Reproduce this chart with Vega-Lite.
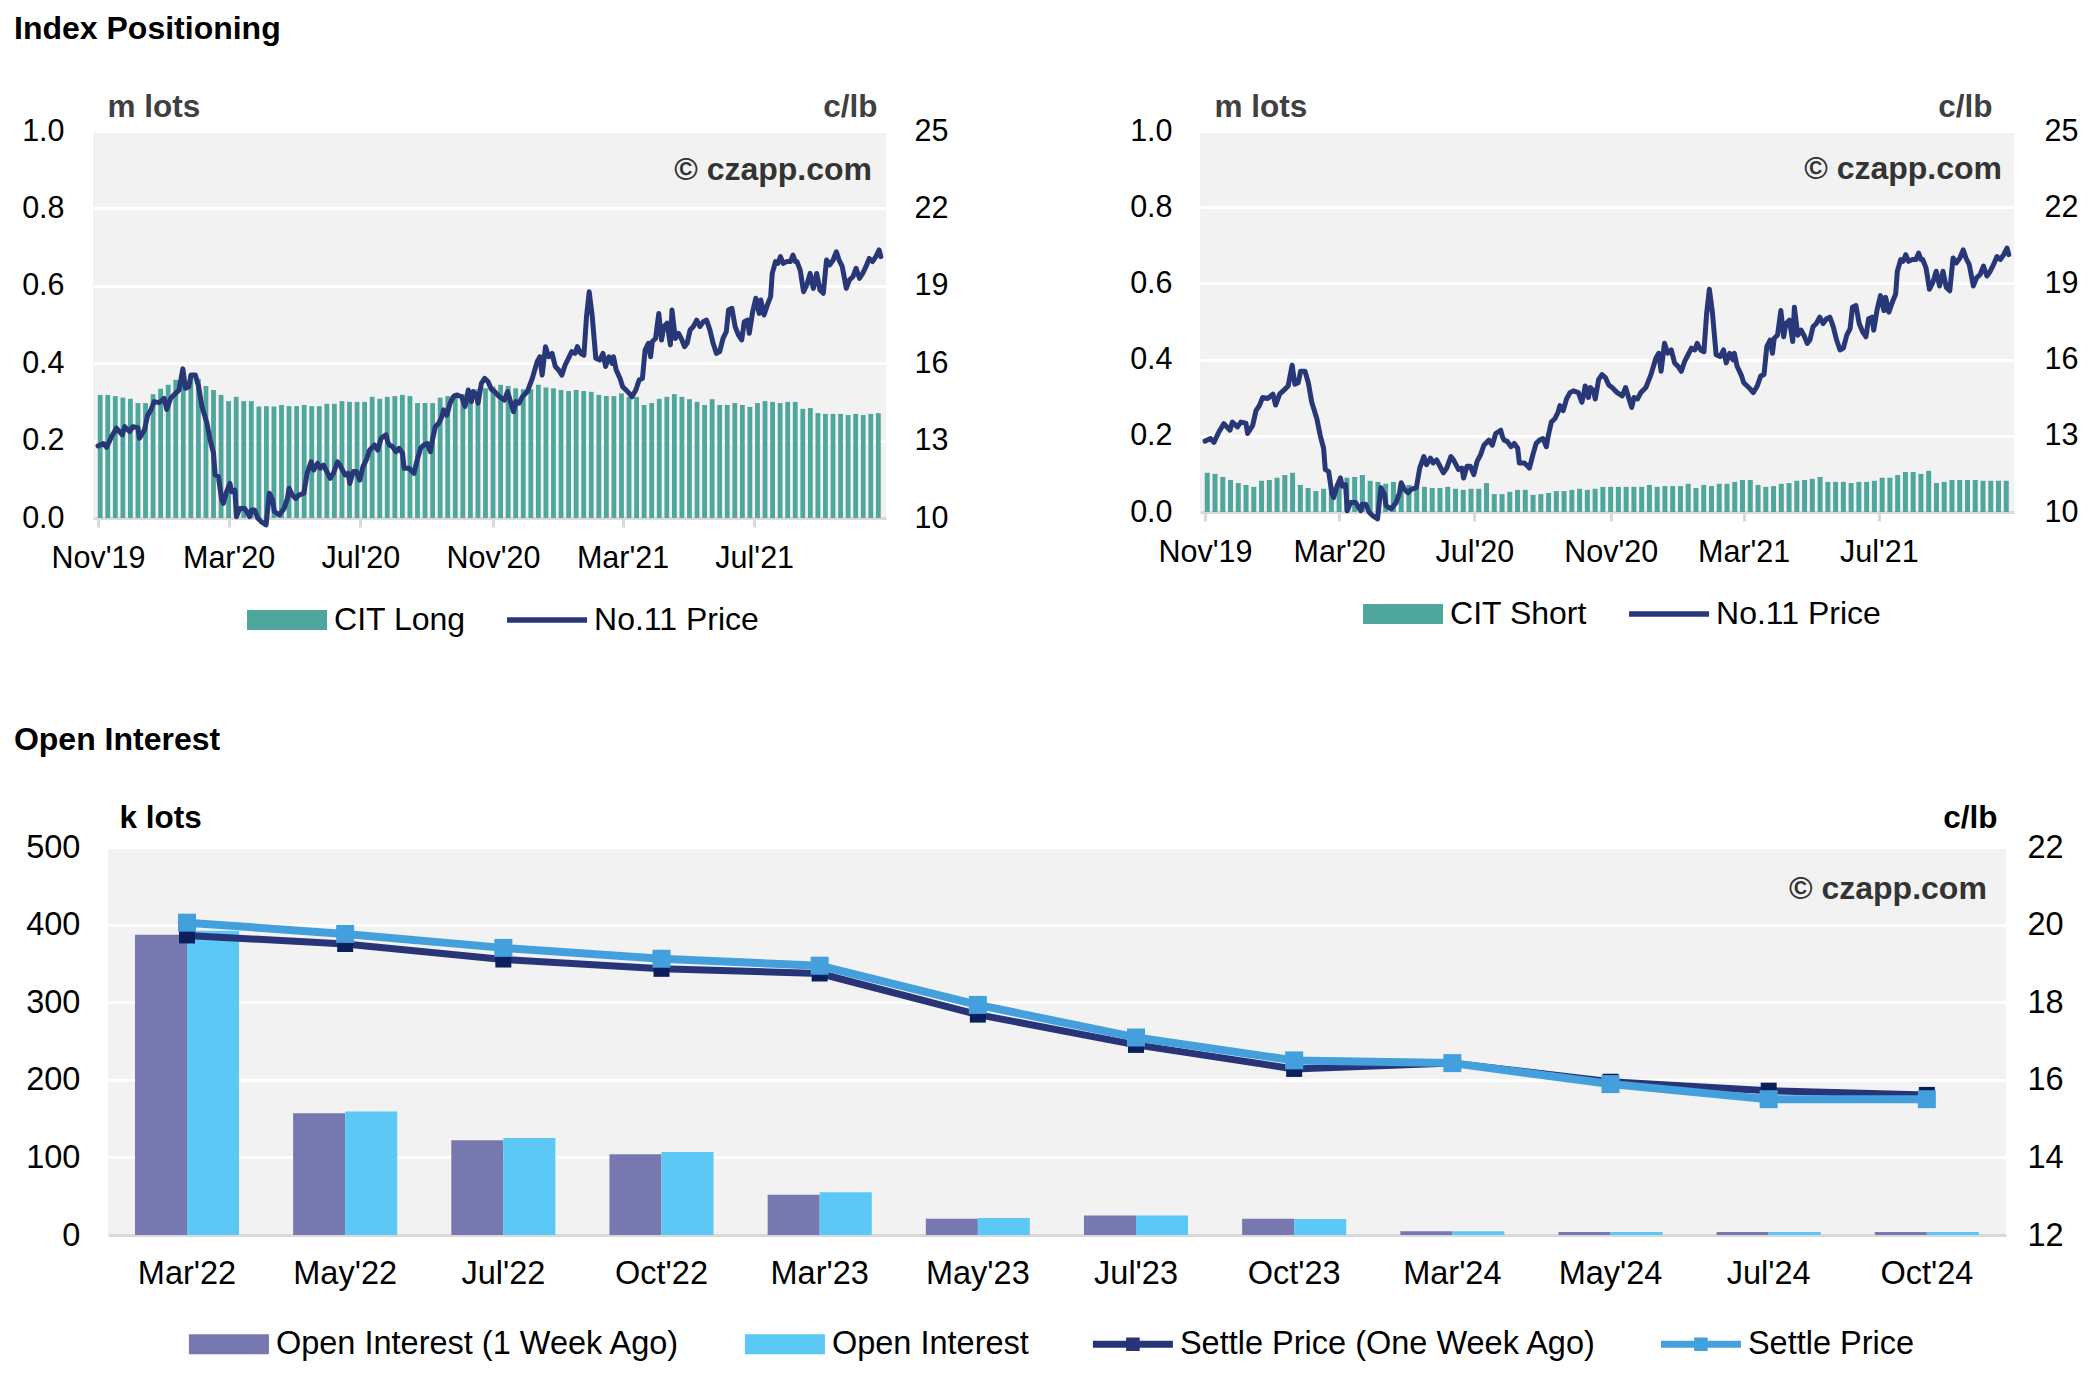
{
  "$schema": "https://vega.github.io/schema/vega-lite/v6.json",
  "background": "white",
  "padding": {"left": 13, "top": 13, "right": 0, "bottom": 0},
  "config": {
    "font": "Liberation Sans",
    "view": {"fill": "#F2F2F2", "stroke": null},
    "axis": {"labelFont": "Liberation Sans", "labelFontSize": 30.5, "labelColor": "#000000", "titleFont": "Liberation Sans", "titleFontSize": 31.5, "titleFontWeight": "bold"},
    "title": {"font": "Liberation Sans", "fontSize": 32, "fontWeight": "bold", "color": "#000000", "anchor": "start", "frame": "group", "baseline": "alphabetic", "offset": 45},
    "legend": {"labelFont": "Liberation Sans", "labelFontSize": 32, "labelColor": "#000000", "labelLimit": 2000, "title": null, "symbolSize": 6400, "labelOffset": 7, "direction": "horizontal", "orient": "none"}
  },
  "resolve": {"scale": {"color": "independent"}, "legend": {"color": "independent"}},
  "datasets": {
    "weekly": [
      {"day":2,"long":0.318,"short":0.103},{"day":9,"long":0.318,"short":0.100},{"day":16,"long":0.315,"short":0.092},{"day":23,"long":0.311,"short":0.084},{"day":30,"long":0.308,"short":0.076},{"day":37,"long":0.297,"short":0.071},{"day":44,"long":0.297,"short":0.066},{"day":51,"long":0.320,"short":0.082},{"day":58,"long":0.334,"short":0.084},{"day":65,"long":0.344,"short":0.090},
      {"day":72,"long":0.357,"short":0.097},{"day":79,"long":0.366,"short":0.103},{"day":86,"long":0.372,"short":0.071},{"day":93,"long":0.360,"short":0.063},{"day":100,"long":0.341,"short":0.055},{"day":107,"long":0.331,"short":0.061},{"day":114,"long":0.318,"short":0.066},{"day":121,"long":0.302,"short":0.080},{"day":128,"long":0.313,"short":0.090},{"day":135,"long":0.302,"short":0.092},
      {"day":142,"long":0.302,"short":0.097},{"day":149,"long":0.288,"short":0.082},{"day":156,"long":0.289,"short":0.079},{"day":163,"long":0.288,"short":0.074},{"day":170,"long":0.292,"short":0.079},{"day":177,"long":0.289,"short":0.076},{"day":184,"long":0.289,"short":0.071},{"day":191,"long":0.292,"short":0.068},{"day":198,"long":0.289,"short":0.066},{"day":205,"long":0.289,"short":0.063},
      {"day":212,"long":0.295,"short":0.063},{"day":219,"long":0.295,"short":0.066},{"day":226,"long":0.302,"short":0.061},{"day":233,"long":0.300,"short":0.058},{"day":240,"long":0.300,"short":0.061},{"day":247,"long":0.300,"short":0.061},{"day":254,"long":0.313,"short":0.076},{"day":261,"long":0.308,"short":0.047},{"day":268,"long":0.313,"short":0.047},{"day":275,"long":0.315,"short":0.053},
      {"day":282,"long":0.318,"short":0.058},{"day":289,"long":0.315,"short":0.058},{"day":296,"long":0.297,"short":0.045},{"day":303,"long":0.297,"short":0.047},{"day":310,"long":0.297,"short":0.050},{"day":317,"long":0.311,"short":0.055},{"day":324,"long":0.315,"short":0.055},{"day":331,"long":0.322,"short":0.058},{"day":338,"long":0.320,"short":0.061},{"day":345,"long":0.326,"short":0.058},
      {"day":352,"long":0.333,"short":0.061},{"day":359,"long":0.335,"short":0.066},{"day":366,"long":0.340,"short":0.066},{"day":373,"long":0.344,"short":0.066},{"day":380,"long":0.341,"short":0.066},{"day":387,"long":0.335,"short":0.066},{"day":394,"long":0.333,"short":0.066},{"day":401,"long":0.333,"short":0.071},{"day":408,"long":0.344,"short":0.066},{"day":415,"long":0.337,"short":0.068},
      {"day":422,"long":0.335,"short":0.068},{"day":429,"long":0.331,"short":0.068},{"day":436,"long":0.328,"short":0.074},{"day":443,"long":0.331,"short":0.063},{"day":450,"long":0.328,"short":0.071},{"day":457,"long":0.326,"short":0.068},{"day":464,"long":0.318,"short":0.074},{"day":471,"long":0.315,"short":0.074},{"day":478,"long":0.315,"short":0.079},{"day":485,"long":0.322,"short":0.084},
      {"day":492,"long":0.313,"short":0.084},{"day":499,"long":0.313,"short":0.071},{"day":506,"long":0.292,"short":0.066},{"day":513,"long":0.297,"short":0.068},{"day":520,"long":0.308,"short":0.074},{"day":527,"long":0.313,"short":0.076},{"day":534,"long":0.320,"short":0.082},{"day":541,"long":0.313,"short":0.084},{"day":548,"long":0.307,"short":0.087},{"day":555,"long":0.300,"short":0.092},
      {"day":562,"long":0.292,"short":0.079},{"day":569,"long":0.307,"short":0.079},{"day":576,"long":0.292,"short":0.079},{"day":583,"long":0.292,"short":0.076},{"day":590,"long":0.297,"short":0.079},{"day":597,"long":0.292,"short":0.079},{"day":604,"long":0.287,"short":0.082},{"day":611,"long":0.297,"short":0.090},{"day":618,"long":0.302,"short":0.090},{"day":625,"long":0.300,"short":0.097},
      {"day":632,"long":0.297,"short":0.105},{"day":639,"long":0.300,"short":0.105},{"day":646,"long":0.300,"short":0.100},{"day":653,"long":0.282,"short":0.108},{"day":660,"long":0.284,"short":0.076},{"day":667,"long":0.271,"short":0.079},{"day":674,"long":0.269,"short":0.084},{"day":681,"long":0.269,"short":0.084},{"day":688,"long":0.269,"short":0.084},{"day":695,"long":0.266,"short":0.084},
      {"day":702,"long":0.269,"short":0.082},{"day":709,"long":0.266,"short":0.082},{"day":716,"long":0.269,"short":0.082},{"day":723,"long":0.271,"short":0.082}
    ],
    "price": [
      {"day":0,"p":12.79},{"day":5,"p":12.89},{"day":8,"p":12.74},{"day":12.5,"p":13.15},{"day":17,"p":13.48},{"day":22.5,"p":13.22},{"day":24.7,"p":13.54},{"day":29.3,"p":13.35},{"day":32.3,"p":13.54},{"day":36.9,"p":13.5},
      {"day":38.4,"p":13.09},{"day":43,"p":13.41},{"day":46,"p":13.99},{"day":49,"p":14.19},{"day":52,"p":14.51},{"day":56.7,"p":14.47},{"day":61.3,"p":14.64},{"day":63.7,"p":14.21},{"day":67.3,"p":14.64},{"day":71.9,"p":14.83},
      {"day":75,"p":14.96},{"day":78.6,"p":15.78},{"day":81,"p":15.03},{"day":84.1,"p":15.09},{"day":86.2,"p":15.54},{"day":90.2,"p":15.54},{"day":93.2,"p":15.09},{"day":96.3,"p":14.32},{"day":100.9,"p":13.67},{"day":103.9,"p":13.02},
      {"day":107,"p":12.51},{"day":108.5,"p":11.67},{"day":111.5,"p":11.6},{"day":114.6,"p":10.7},{"day":116.1,"p":10.57},{"day":119.1,"p":11.02},{"day":122.2,"p":11.34},{"day":123.7,"p":11.02},{"day":126.8,"p":11.08},{"day":128.3,"p":10.05},
      {"day":131.3,"p":10.37},{"day":135.9,"p":10.37},{"day":140.5,"p":10.05},{"day":142,"p":10.31},{"day":145,"p":10.31},{"day":148.1,"p":9.99},{"day":151.1,"p":9.86},{"day":155.7,"p":9.73},{"day":158.7,"p":10.96},{"day":161.8,"p":10.7},
      {"day":163.3,"p":10.25},{"day":167.9,"p":10.12},{"day":172.4,"p":10.37},{"day":175.5,"p":10.76},{"day":177,"p":11.15},{"day":180,"p":10.89},{"day":183.1,"p":10.76},{"day":186.1,"p":10.89},{"day":190.7,"p":10.96},{"day":193.7,"p":11.73},
      {"day":197.4,"p":12.18},{"day":199.8,"p":11.86},{"day":203.5,"p":12.12},{"day":205.9,"p":11.93},{"day":209,"p":12.05},{"day":212,"p":11.8},{"day":215.1,"p":11.54},{"day":218.1,"p":11.73},{"day":221.8,"p":12.18},{"day":224.2,"p":12.05},
      {"day":228.8,"p":11.67},{"day":231.8,"p":11.73},{"day":233.3,"p":11.34},{"day":236.4,"p":11.8},{"day":239.4,"p":11.8},{"day":242.5,"p":11.47},{"day":245.5,"p":11.99},{"day":248.6,"p":12.25},{"day":251.6,"p":12.63},{"day":256.2,"p":12.83},
      {"day":259.2,"p":12.63},{"day":262.3,"p":13.09},{"day":266.8,"p":13.22},{"day":268.4,"p":12.96},{"day":269.9,"p":12.83},{"day":272.9,"p":12.77},{"day":276,"p":12.57},{"day":279,"p":12.7},{"day":282.1,"p":12.51},{"day":283.6,"p":11.93},
      {"day":288.2,"p":11.93},{"day":292.7,"p":11.73},{"day":295.8,"p":12.25},{"day":298.8,"p":12.7},{"day":301.9,"p":12.83},{"day":304.9,"p":12.89},{"day":308,"p":12.57},{"day":309.5,"p":12.96},{"day":312.5,"p":13.54},{"day":315.6,"p":13.67},
      {"day":318.6,"p":13.93},{"day":320.2,"p":14.19},{"day":323.2,"p":13.99},{"day":326.2,"p":14.45},{"day":329.3,"p":14.7},{"day":332.3,"p":14.77},{"day":336.9,"p":14.7},{"day":340,"p":14.32},{"day":341.5,"p":14.57},{"day":343,"p":14.96},
      {"day":346,"p":14.51},{"day":347.6,"p":14.9},{"day":350.6,"p":14.77},{"day":352.1,"p":14.45},{"day":355.2,"p":15.22},{"day":358.2,"p":15.41},{"day":361.3,"p":15.29},{"day":364.3,"p":15.0},{"day":367.3,"p":14.9},{"day":371.9,"p":14.7},
      {"day":376.5,"p":14.57},{"day":379.5,"p":14.9},{"day":382.6,"p":14.45},{"day":385,"p":14.12},{"day":387.1,"p":14.51},{"day":390.2,"p":14.45},{"day":393.2,"p":14.7},{"day":397.8,"p":14.9},{"day":402.4,"p":15.41},{"day":406.9,"p":16.06},
      {"day":409.4,"p":16.25},{"day":411.5,"p":15.54},{"day":414.6,"p":16.64},{"day":417.6,"p":16.25},{"day":420.7,"p":16.38},{"day":423.7,"p":15.87},{"day":426.7,"p":15.74},{"day":429.8,"p":15.54},{"day":432.8,"p":15.93},{"day":435.9,"p":16.19},
      {"day":438.9,"p":16.45},{"day":442,"p":16.38},{"day":444.1,"p":16.64},{"day":447.2,"p":16.38},{"day":450.2,"p":16.31},{"day":452.6,"p":17.8},{"day":455.1,"p":18.77},{"day":457.8,"p":17.87},{"day":461.2,"p":16.19},{"day":464.8,"p":16.12},
      {"day":467.9,"p":16.38},{"day":470.3,"p":15.87},{"day":473.4,"p":16.25},{"day":476.4,"p":15.99},{"day":477.6,"p":16.25},{"day":480.1,"p":15.74},{"day":483.7,"p":15.41},{"day":486.1,"p":15.09},{"day":489.2,"p":14.96},{"day":492.2,"p":14.83},
      {"day":494.7,"p":14.7},{"day":498.3,"p":14.96},{"day":501.4,"p":15.35},{"day":504.4,"p":15.41},{"day":506.9,"p":16.51},{"day":509.9,"p":16.77},{"day":512,"p":16.25},{"day":513.6,"p":16.84},{"day":516.6,"p":16.96},{"day":519.6,"p":17.93},
      {"day":522.1,"p":16.9},{"day":524.2,"p":17.42},{"day":527.3,"p":17.55},{"day":530.3,"p":16.71},{"day":531.8,"p":18.06},{"day":534.9,"p":16.96},{"day":537.9,"p":17.16},{"day":541,"p":16.9},{"day":543.4,"p":16.64},{"day":545.8,"p":16.77},
      {"day":548.6,"p":17.29},{"day":551.6,"p":17.42},{"day":554.7,"p":17.67},{"day":557.7,"p":17.42},{"day":560.8,"p":17.61},{"day":563.8,"p":17.67},{"day":566.9,"p":17.29},{"day":569.9,"p":16.77},{"day":573,"p":16.38},{"day":576,"p":16.45},
      {"day":579.1,"p":16.96},{"day":582.1,"p":17.22},{"day":584.2,"p":18.06},{"day":587.3,"p":18.13},{"day":590.3,"p":17.42},{"day":593.4,"p":17.09},{"day":596.4,"p":16.9},{"day":598.8,"p":17.61},{"day":601.9,"p":17.67},{"day":603.4,"p":17.16},
      {"day":606.5,"p":17.98},{"day":609.5,"p":18.52},{"day":612.6,"p":17.93},{"day":614.1,"p":18.45},{"day":617.1,"p":17.87},{"day":620.2,"p":18.26},{"day":623.2,"p":18.58},{"day":624.7,"p":19.48},{"day":627.8,"p":19.94},{"day":629.9,"p":19.87},
      {"day":632.3,"p":20.13},{"day":634.8,"p":19.87},{"day":638.4,"p":19.94},{"day":641.5,"p":19.94},{"day":643.9,"p":20.19},{"day":646.1,"p":19.94},{"day":647.6,"p":19.94},{"day":650.6,"p":19.61},{"day":653.7,"p":18.77},{"day":656.7,"p":19.03},
      {"day":659.8,"p":19.48},{"day":662.8,"p":18.9},{"day":665.9,"p":19.48},{"day":668.9,"p":18.84},{"day":672,"p":18.71},{"day":675,"p":20.0},{"day":678,"p":19.81},{"day":681.1,"p":20.0},{"day":684.1,"p":20.32},{"day":686.6,"p":20.0},
      {"day":689.6,"p":19.74},{"day":693.3,"p":18.9},{"day":696.3,"p":19.23},{"day":699.4,"p":19.35},{"day":702.4,"p":19.68},{"day":705.5,"p":19.29},{"day":708.5,"p":19.48},{"day":711.5,"p":19.74},{"day":714.6,"p":20.06},{"day":717.6,"p":19.94},
      {"day":720.7,"p":20.13},{"day":723.7,"p":20.39},{"day":725.3,"p":20.13}
    ],
    "oi": [
      {"contract":"Mar'22","series":"Open Interest (1 Week Ago)","value":387},{"contract":"Mar'22","series":"Open Interest","value":392},
      {"contract":"May'22","series":"Open Interest (1 Week Ago)","value":157},{"contract":"May'22","series":"Open Interest","value":159},
      {"contract":"Jul'22","series":"Open Interest (1 Week Ago)","value":122},{"contract":"Jul'22","series":"Open Interest","value":125},
      {"contract":"Oct'22","series":"Open Interest (1 Week Ago)","value":104},{"contract":"Oct'22","series":"Open Interest","value":107},
      {"contract":"Mar'23","series":"Open Interest (1 Week Ago)","value":52},{"contract":"Mar'23","series":"Open Interest","value":55},
      {"contract":"May'23","series":"Open Interest (1 Week Ago)","value":21},{"contract":"May'23","series":"Open Interest","value":22},
      {"contract":"Jul'23","series":"Open Interest (1 Week Ago)","value":25},{"contract":"Jul'23","series":"Open Interest","value":25},
      {"contract":"Oct'23","series":"Open Interest (1 Week Ago)","value":21},{"contract":"Oct'23","series":"Open Interest","value":20.5},
      {"contract":"Mar'24","series":"Open Interest (1 Week Ago)","value":4.8},{"contract":"Mar'24","series":"Open Interest","value":4.8},
      {"contract":"May'24","series":"Open Interest (1 Week Ago)","value":3.9},{"contract":"May'24","series":"Open Interest","value":3.9},
      {"contract":"Jul'24","series":"Open Interest (1 Week Ago)","value":3.9},{"contract":"Jul'24","series":"Open Interest","value":3.9},
      {"contract":"Oct'24","series":"Open Interest (1 Week Ago)","value":3.9},{"contract":"Oct'24","series":"Open Interest","value":3.9}
    ],
    "settle1w": [
      {"contract":"Mar'22","series":"Settle Price (One Week Ago)","price":19.72},{"contract":"May'22","series":"Settle Price (One Week Ago)","price":19.5},{"contract":"Jul'22","series":"Settle Price (One Week Ago)","price":19.1},{"contract":"Oct'22","series":"Settle Price (One Week Ago)","price":18.86},{"contract":"Mar'23","series":"Settle Price (One Week Ago)","price":18.74},{"contract":"May'23","series":"Settle Price (One Week Ago)","price":17.68},
      {"contract":"Jul'23","series":"Settle Price (One Week Ago)","price":16.9},{"contract":"Oct'23","series":"Settle Price (One Week Ago)","price":16.28},{"contract":"Mar'24","series":"Settle Price (One Week Ago)","price":16.43},{"contract":"May'24","series":"Settle Price (One Week Ago)","price":15.95},{"contract":"Jul'24","series":"Settle Price (One Week Ago)","price":15.72},{"contract":"Oct'24","series":"Settle Price (One Week Ago)","price":15.61}
    ],
    "settle": [
      {"contract":"Mar'22","series":"Settle Price","price":20.05},{"contract":"May'22","series":"Settle Price","price":19.76},{"contract":"Jul'22","series":"Settle Price","price":19.4},{"contract":"Oct'22","series":"Settle Price","price":19.12},{"contract":"Mar'23","series":"Settle Price","price":18.94},{"contract":"May'23","series":"Settle Price","price":17.93},
      {"contract":"Jul'23","series":"Settle Price","price":17.09},{"contract":"Oct'23","series":"Settle Price","price":16.5},{"contract":"Mar'24","series":"Settle Price","price":16.43},{"contract":"May'24","series":"Settle Price","price":15.89},{"contract":"Jul'24","series":"Settle Price","price":15.5},{"contract":"Oct'24","series":"Settle Price","price":15.5}
    ]
  },
  "align": "each",
  "center": true,
  "bounds": "full",
  "spacing": 88,
  "vconcat": [
    {
      "align": "each",
      "bounds": "full",
      "spacing": 181,
      "resolve": {"scale": {"color": "independent"}, "legend": {"color": "independent"}},
      "hconcat": [
        {
          "title": {"text": "Index Positioning", "dx": -79},
          "width": 793,
          "height": 387,
          "layer": [
            {
              "data": {"name": "weekly"},
              "mark": {"type": "bar", "size": 4.8},
              "encoding": {
                "x": {"field": "day", "type": "quantitative", "scale": {"domain": [0, 725.5], "nice": false, "zero": false},
                  "axis": {"values": [0, 121, 243, 366, 486, 608], "labelExpr": "datum.value == 0 ? \"Nov'19\" : datum.value == 121 ? \"Mar'20\" : datum.value == 243 ? \"Jul'20\" : datum.value == 366 ? \"Nov'20\" : datum.value == 486 ? \"Mar'21\" : \"Jul'21\"", "title": null, "grid": false, "domain": true, "domainColor": "#D9D9D9", "domainWidth": 3, "ticks": true, "tickColor": "#D9D9D9", "tickWidth": 3, "tickSize": 9, "labelPadding": 16, "labelFlush": false, "labelOverlap": false}},
                "y": {"field": "long", "type": "quantitative", "scale": {"domain": [0, 1], "nice": false},
                  "axis": {"orient": "left", "values": [0, 0.2, 0.4, 0.6, 0.8, 1.0], "format": ".1f", "grid": true, "gridColor": "#FFFFFF", "gridWidth": 3, "domain": false, "ticks": false, "labelPadding": 29, "title": "m lots", "titleAngle": 0, "titleX": 14, "titleY": -15, "titleAlign": "left", "titleBaseline": "alphabetic", "titleColor": "#404040"}},
                "color": {"datum": "CIT Long", "type": "nominal", "scale": {"domain": ["CIT Long", "No.11 Price"], "range": ["#4FA69C", "#283777"]},
                  "legend": {"legendX": 154, "legendY": 449, "columnPadding": 41,
                    "encode": {"symbols": {"update": {"shape": {"signal": "datum.value === 'CIT Long' ? 'M-1,-0.25H1V0.25H-1Z' : 'M-1,-0.07H1V0.07H-1Z'"}, "fill": {"signal": "datum.value === 'CIT Long' ? '#4FA69C' : '#283777'"}, "stroke": {"value": "transparent"}, "strokeWidth": {"value": 0}, "opacity": {"value": 1}}}}}}
              }
            },
            {
              "data": {"name": "price"},
              "mark": {"type": "line", "strokeWidth": 5, "strokeJoin": "round", "strokeCap": "round"},
              "encoding": {
                "x": {"field": "day", "type": "quantitative"},
                "y": {"field": "p", "type": "quantitative", "scale": {"domain": [10, 25], "nice": false, "zero": false},
                  "axis": {"orient": "right", "values": [10, 13, 16, 19, 22, 25], "grid": false, "domain": false, "ticks": false, "labelPadding": 28, "title": "c/lb", "titleAngle": 0, "titleX": -9, "titleY": -15, "titleAlign": "right", "titleBaseline": "alphabetic", "titleColor": "#404040"}},
                "color": {"datum": "No.11 Price", "type": "nominal"}
              }
            },
            {
              "data": {"values": [{}]},
              "mark": {"type": "text", "text": "© czapp.com", "align": "right", "baseline": "middle", "dx": -9, "fontSize": 32, "fontWeight": "bold", "color": "#333333"},
              "encoding": {
                "x": {"datum": 725.5, "type": "quantitative"},
                "y": {"datum": 0.9, "type": "quantitative", "scale": {"domain": [0, 1], "nice": false}, "axis": null}
              }
            }
          ],
          "resolve": {"scale": {"y": "independent"}}
        },
        {
          "width": 814,
          "height": 381,
          "layer": [
            {
              "data": {"name": "weekly"},
              "mark": {"type": "bar", "size": 5},
              "encoding": {
                "x": {"field": "day", "type": "quantitative", "scale": {"domain": [0, 725.5], "nice": false, "zero": false},
                  "axis": {"values": [0, 121, 243, 366, 486, 608], "labelExpr": "datum.value == 0 ? \"Nov'19\" : datum.value == 121 ? \"Mar'20\" : datum.value == 243 ? \"Jul'20\" : datum.value == 366 ? \"Nov'20\" : datum.value == 486 ? \"Mar'21\" : \"Jul'21\"", "title": null, "grid": false, "domain": true, "domainColor": "#D9D9D9", "domainWidth": 3, "ticks": true, "tickColor": "#D9D9D9", "tickWidth": 3, "tickSize": 9, "labelPadding": 16, "labelFlush": false, "labelOverlap": false}},
                "y": {"field": "short", "type": "quantitative", "scale": {"domain": [0, 1], "nice": false},
                  "axis": {"orient": "left", "values": [0, 0.2, 0.4, 0.6, 0.8, 1.0], "format": ".1f", "grid": true, "gridColor": "#FFFFFF", "gridWidth": 3, "domain": false, "ticks": false, "labelPadding": 28, "title": "m lots", "titleAngle": 0, "titleX": 14, "titleY": -15, "titleAlign": "left", "titleBaseline": "alphabetic", "titleColor": "#404040"}},
                "color": {"datum": "CIT Short", "type": "nominal", "scale": {"domain": ["CIT Short", "No.11 Price"], "range": ["#4FA69C", "#283777"]},
                  "legend": {"legendX": 163, "legendY": 443, "columnPadding": 42,
                    "encode": {"symbols": {"update": {"shape": {"signal": "datum.value === 'CIT Short' ? 'M-1,-0.25H1V0.25H-1Z' : 'M-1,-0.07H1V0.07H-1Z'"}, "fill": {"signal": "datum.value === 'CIT Short' ? '#4FA69C' : '#283777'"}, "stroke": {"value": "transparent"}, "strokeWidth": {"value": 0}, "opacity": {"value": 1}}}}}}
              }
            },
            {
              "data": {"name": "price"},
              "mark": {"type": "line", "strokeWidth": 5, "strokeJoin": "round", "strokeCap": "round"},
              "encoding": {
                "x": {"field": "day", "type": "quantitative"},
                "y": {"field": "p", "type": "quantitative", "scale": {"domain": [10, 25], "nice": false, "zero": false},
                  "axis": {"orient": "right", "values": [10, 13, 16, 19, 22, 25], "grid": false, "domain": false, "ticks": false, "labelPadding": 30, "title": "c/lb", "titleAngle": 0, "titleX": -22, "titleY": -15, "titleAlign": "right", "titleBaseline": "alphabetic", "titleColor": "#404040"}},
                "color": {"datum": "No.11 Price", "type": "nominal"}
              }
            },
            {
              "data": {"values": [{}]},
              "mark": {"type": "text", "text": "© czapp.com", "align": "right", "baseline": "middle", "dx": -7, "fontSize": 32, "fontWeight": "bold", "color": "#333333"},
              "encoding": {
                "x": {"datum": 725.5, "type": "quantitative"},
                "y": {"datum": 0.9, "type": "quantitative", "scale": {"domain": [0, 1], "nice": false}, "axis": null}
              }
            }
          ],
          "resolve": {"scale": {"y": "independent"}}
        }
      ]
    },
    {
      "title": {"text": "Open Interest", "dx": -94},
      "width": 1898,
      "height": 388,
      "layer": [
        {
          "data": {"name": "oi"},
          "mark": {"type": "bar"},
          "encoding": {
            "x": {"field": "contract", "type": "nominal", "sort": null, "scale": {"domain": ["Mar'22","May'22","Jul'22","Oct'22","Mar'23","May'23","Jul'23","Oct'23","Mar'24","May'24","Jul'24","Oct'24"], "paddingInner": 0.342, "paddingOuter": 0.171},
              "axis": {"title": null, "labelAngle": 0, "labelFontSize": 32.5, "domain": true, "domainColor": "#D9D9D9", "domainWidth": 3, "ticks": false, "labelPadding": 22, "grid": false}},
            "xOffset": {"field": "series", "type": "nominal", "scale": {"domain": ["Open Interest (1 Week Ago)", "Open Interest"], "paddingInner": 0, "paddingOuter": 0}},
            "y": {"field": "value", "type": "quantitative", "scale": {"domain": [0, 500], "nice": false},
              "axis": {"orient": "left", "values": [0, 100, 200, 300, 400, 500], "labelFontSize": 32.5, "grid": true, "gridColor": "#FFFFFF", "gridWidth": 3, "domain": false, "ticks": false, "labelPadding": 28, "title": "k lots", "titleAngle": 0, "titleX": 11, "titleY": -20, "titleAlign": "left", "titleBaseline": "alphabetic", "titleColor": "#000000"}},
            "color": {"field": "series", "type": "nominal", "scale": {"domain": ["Open Interest (1 Week Ago)", "Open Interest", "Settle Price (One Week Ago)", "Settle Price"], "range": ["#7878B0", "#5BC8F5", "#283478", "#43A0DC"]},
              "legend": {"legendX": 81, "legendY": 457, "columnPadding": 64, "labelFontSize": 32.5,
                "encode": {"symbols": {"update": {"shape": {"signal": "indexof(['Open Interest (1 Week Ago)','Open Interest'], datum.value) >= 0 ? 'M-1,-0.25H1V0.25H-1Z' : 'M-1,-0.085H1V0.085H-1Z M-0.17,-0.17H0.17V0.17H-0.17Z'"}, "fill": {"signal": "datum.value === 'Open Interest (1 Week Ago)' ? '#7878B0' : datum.value === 'Open Interest' ? '#5BC8F5' : datum.value === 'Settle Price' ? '#43A0DC' : '#283478'"}, "stroke": {"value": "transparent"}, "strokeWidth": {"value": 0}, "opacity": {"value": 1}}}}}}
          }
        },
        {
          "data": {"name": "settle1w"},
          "mark": {"type": "line", "strokeWidth": 7, "strokeJoin": "round"},
          "encoding": {
            "x": {"field": "contract", "type": "nominal", "sort": null, "scale": {"domain": ["Mar'22","May'22","Jul'22","Oct'22","Mar'23","May'23","Jul'23","Oct'23","Mar'24","May'24","Jul'24","Oct'24"]}},
            "y": {"field": "price", "type": "quantitative", "scale": {"domain": [12, 22], "nice": false, "zero": false},
              "axis": {"orient": "right", "values": [12, 14, 16, 18, 20, 22], "labelFontSize": 32.5, "grid": false, "domain": false, "ticks": false, "labelPadding": 21, "title": "c/lb", "titleAngle": 0, "titleX": -9, "titleY": -20, "titleAlign": "right", "titleBaseline": "alphabetic", "titleColor": "#000000"}},
            "color": {"field": "series", "type": "nominal"}
          }
        },
        {
          "data": {"name": "settle1w"},
          "mark": {"type": "point", "shape": "square", "filled": true, "size": 256, "color": "#0A1F5C", "opacity": 1},
          "encoding": {
            "x": {"field": "contract", "type": "nominal", "sort": null, "scale": {"domain": ["Mar'22","May'22","Jul'22","Oct'22","Mar'23","May'23","Jul'23","Oct'23","Mar'24","May'24","Jul'24","Oct'24"]}},
            "y": {"field": "price", "type": "quantitative", "scale": {"domain": [12, 22], "nice": false, "zero": false}, "axis": null}
          }
        },
        {
          "data": {"name": "settle"},
          "mark": {"type": "line", "strokeWidth": 8, "strokeJoin": "round"},
          "encoding": {
            "x": {"field": "contract", "type": "nominal", "sort": null, "scale": {"domain": ["Mar'22","May'22","Jul'22","Oct'22","Mar'23","May'23","Jul'23","Oct'23","Mar'24","May'24","Jul'24","Oct'24"]}},
            "y": {"field": "price", "type": "quantitative", "scale": {"domain": [12, 22], "nice": false, "zero": false}, "axis": null},
            "color": {"field": "series", "type": "nominal"}
          }
        },
        {
          "data": {"name": "settle"},
          "mark": {"type": "point", "shape": "square", "filled": true, "size": 324, "color": "#43A0DC", "opacity": 1},
          "encoding": {
            "x": {"field": "contract", "type": "nominal", "sort": null, "scale": {"domain": ["Mar'22","May'22","Jul'22","Oct'22","Mar'23","May'23","Jul'23","Oct'23","Mar'24","May'24","Jul'24","Oct'24"]}},
            "y": {"field": "price", "type": "quantitative", "scale": {"domain": [12, 22], "nice": false, "zero": false}, "axis": null}
          }
        },
        {
          "data": {"values": [{}]},
          "mark": {"type": "text", "text": "© czapp.com", "align": "right", "baseline": "middle", "dx": 60, "fontSize": 32, "fontWeight": "bold", "color": "#333333"},
          "encoding": {
            "x": {"datum": "Oct'24", "type": "nominal"},
            "y": {"datum": 446, "type": "quantitative", "scale": {"domain": [0, 500], "nice": false}, "axis": null}
          }
        }
      ],
      "resolve": {"scale": {"y": "independent"}}
    }
  ]
}
